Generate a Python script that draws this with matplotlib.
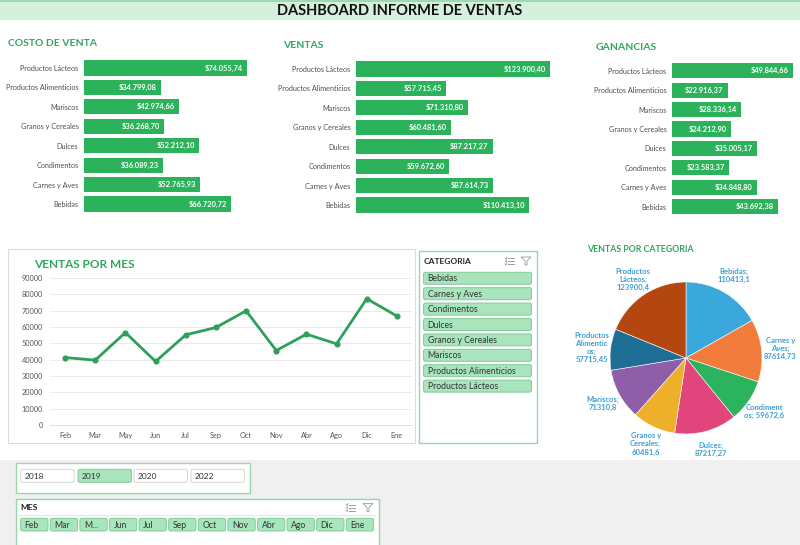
import matplotlib
matplotlib.use('Agg')
import matplotlib.pyplot as plt
from matplotlib.patches import Rectangle, FancyBboxPatch, Polygon

plt.rcParams['font.family'] = ['Lato', 'DejaVu Sans']

# ---- data ----
categorias = ['Productos Lácteos', 'Productos Alimenticios', 'Mariscos', 'Granos y Cereales',
              'Dulces', 'Condimentos', 'Carnes y Aves', 'Bebidas']
costo = [74055.74, 34799.08, 42974.66, 36268.70, 52212.10, 36089.23, 52765.93, 66720.72]
ventas = [123900.40, 57715.45, 71310.80, 60481.60, 87217.27, 59672.60, 87614.73, 110413.10]
ganancias = [49844.66, 22916.37, 28336.14, 24212.90, 35005.17, 23583.37, 34848.80, 43692.38]

meses = ['Feb', 'Mar', 'May', 'Jun', 'Jul', 'Sep', 'Oct', 'Nov', 'Abr', 'Ago', 'Dic', 'Ene']
ventas_mes = [41300, 39700, 56600, 38900, 55200, 59700, 69900, 45600, 55600, 49700, 77300, 66700]

pie_cats = ['Bebidas', 'Carnes y Aves', 'Condimentos', 'Dulces', 'Granos y Cereales',
            'Mariscos', 'Productos Alimenticios', 'Productos Lácteos']
pie_labels = ['Bebidas;\n110413,1', 'Carnes y\nAves;\n87614,73', 'Condiment\nos; 59672,6',
              'Dulces;\n87217,27', 'Granos y\nCereales;\n60481,6', 'Mariscos;\n71310,8',
              'Productos\nAlimentic\nos;\n57715,45', 'Productos\nLácteos;\n123900,4']
pie_colors = ['#3ba8dc', '#f27c3b', '#2bb45d', '#e0467c', '#eeaf2a', '#8e5ea9', '#1f6e95', '#b4470f']
pie_vals = [ventas[categorias.index(c)] for c in pie_cats]

anios = ['2018', '2019', '2020', '2022']
anio_sel = '2019'
mes_botones = ['Feb', 'Mar', 'M...', 'Jun', 'Jul', 'Sep', 'Oct', 'Nov', 'Abr', 'Ago', 'Dic', 'Ene']

GREEN = '#2fa75c'
BAR = '#2cb25b'
LINE = '#2f9f5c'
SEL = '#a8e4bc'
SEL_EDGE = '#80cc99'

W, H = 800, 545


def box(x0, y0, x1, y1):
    return [x0 / W, 1 - y1 / H, (x1 - x0) / W, (y1 - y0) / H]


def fmt(v):
    s = f'{v:,.2f}'
    return '$' + s.replace(',', 'X').replace('.', ',').replace('X', '.')


fig = plt.figure(figsize=(8, 5.45), dpi=100)

# background / decoration layer in pixel coords
bg = fig.add_axes([0, 0, 1, 1])
bg.set_xlim(0, W)
bg.set_ylim(H, 0)
bg.axis('off')

bg.add_patch(Rectangle((0, 0), W, 20, color='#d5f1de', lw=0))
bg.add_patch(Rectangle((0, 0), W, 2, color='#9fd8b1', lw=0))
bg.text(400, 11, 'DASHBOARD INFORME DE VENTAS', ha='center', va='center',
        fontsize=10.5, fontweight='bold', color='#111111')
bg.add_patch(Rectangle((0, 460), W, 85, color='#f0f0f0', lw=0))

# line chart panel
bg.add_patch(Rectangle((8, 249), 407, 194, facecolor='white', edgecolor='#dcdcdc', lw=0.8))


def icons(x1, x2, y):
    for k in range(3):
        bg.plot([x1 - 1, x1 + 5], [y - 3 + k * 3] * 2, color='#8a8a8a', lw=0.6)
        bg.plot([x1 - 4, x1 - 3, x1 - 2], [y - 3 + k * 3, y - 2 + k * 3, y - 4 + k * 3],
                color='#8a8a8a', lw=0.5)
    bg.add_patch(Polygon([[x2 - 5, y - 4], [x2 + 5, y - 4], [x2 + 1, y], [x2 + 1, y + 4],
                          [x2 - 1, y + 4], [x2 - 1, y]], closed=True, fill=False,
                         edgecolor='#9a9a9a', lw=0.6))


def button(x0, y0, w, h, text, fill, edge, size=6):
    bg.add_patch(FancyBboxPatch((x0, y0), w, h, boxstyle='round,pad=0,rounding_size=2',
                                facecolor=fill, edgecolor=edge, lw=0.7))
    bg.text(x0 + 4, y0 + h / 2 + 0.5, text, ha='left', va='center', fontsize=size, color='#333333')


# categoria slicer
bg.add_patch(Rectangle((419, 251), 118, 192, facecolor='white', edgecolor='#95d6aa', lw=1))
bg.text(424, 261, 'CATEGORIA', ha='left', va='center', fontsize=6, fontweight='bold', color='#222222')
icons(509, 526, 261)
for i, c in enumerate(pie_cats):
    button(423.5, 272.3 + i * 15.4, 108, 12, c, SEL, SEL_EDGE, size=6.2)

# year slicer
bg.add_patch(Rectangle((15.5, 463), 234.5, 30, facecolor='white', edgecolor='#95d6aa', lw=1))
for i, a in enumerate(anios):
    x0 = [20.7, 78, 134, 191][i]
    sel = a == anio_sel
    button(x0, 469.3, 53.5, 13, a, SEL if sel else 'white', SEL_EDGE if sel else '#d4d4d4', size=6)

# mes slicer
bg.add_patch(Rectangle((16, 498.5), 363, 60, facecolor='white', edgecolor='#95d6aa', lw=1))
bg.text(20, 507.5, 'MES', ha='left', va='center', fontsize=6, fontweight='bold', color='#222222')
bg.plot([19, 375], [515, 515], color='#e0e0e0', lw=0.6)
icons(350, 368, 507.5)
for i, m in enumerate(mes_botones):
    button(20.7 + i * 29.6, 518.3, 27.3, 12.7, m, SEL, SEL_EDGE, size=6.2)

# ---- bar charts ----
bar_specs = [
    (costo, 'COSTO DE VENTA', (84, 58.3, 260, 213.7), 80000, (8, 44)),
    (ventas, 'VENTAS', (356, 59.3, 559.6, 214.7), 130000, (283, 45)),
    (ganancias, 'GANANCIAS', (672, 61, 798.3, 216.4), 52000, (596, 47)),
]
for vals, title, pos, xmax, tpos in bar_specs:
    ax = fig.add_axes(box(*pos))
    ax.set_facecolor('none')
    ypos = range(len(categorias))
    ax.barh(ypos, vals, height=0.78, color=BAR)
    ax.set_xlim(0, xmax)
    ax.set_ylim(len(categorias) - 0.5, -0.5)
    ax.set_yticks(list(ypos))
    ax.set_yticklabels(categorias, fontsize=5.2, color='#505050')
    ax.tick_params(axis='y', length=0, pad=4)
    ax.set_xticks([])
    for s in ax.spines.values():
        s.set_visible(False)
    for i, v in enumerate(vals):
        ax.annotate(fmt(v), (v, i), xytext=(-3, 0), textcoords='offset points',
                    ha='right', va='center', fontsize=5.4, fontweight='bold', color='white')
    bg.text(tpos[0], tpos[1], title, ha='left', va='center', fontsize=7.5,
            fontweight='bold', color=GREEN)

# ---- line chart ----
bg.text(34, 264, 'VENTAS POR MES', ha='left', va='center', fontsize=8.5,
        fontweight='bold', color=GREEN)
axl = fig.add_axes(box(50, 278, 412, 425))
axl.set_facecolor('none')
axl.plot(range(len(meses)), ventas_mes, color=LINE, lw=2, marker='o', ms=3.4, zorder=3)
axl.set_xlim(-0.5, len(meses) - 0.5)
axl.set_ylim(0, 90000)
axl.set_yticks(range(0, 90001, 10000))
axl.set_xticks(range(len(meses)))
axl.set_xticklabels(meses)
axl.tick_params(axis='both', labelsize=5.3, colors='#555555', length=0)
axl.tick_params(axis='y', pad=5)
axl.tick_params(axis='x', pad=5)
axl.grid(axis='y', color='#e8e8e8', lw=0.6)
for k in ['top', 'right', 'left']:
    axl.spines[k].set_visible(False)
axl.spines['bottom'].set_color('#d8d8d8')
axl.spines['bottom'].set_linewidth(0.6)

# ---- pie chart ----
bg.text(587, 250, 'VENTAS POR CATEGORIA', ha='left', va='center', fontsize=6.3,
        fontweight='bold', color=GREEN)
axp = fig.add_axes(box(591, 263, 781, 453))
wedges, texts = axp.pie(pie_vals, labels=pie_labels, colors=pie_colors, startangle=90,
                        counterclock=False, labeldistance=1.25,
                        wedgeprops=dict(edgecolor='white', linewidth=0.4),
                        textprops=dict(fontsize=5.5, fontweight='bold', color='#3d9fd3'))
for t in texts:
    t.set_ha('center')
    t.set_va('center')
    t.set_linespacing(1.15)

fig.savefig('out.png', dpi=100)
